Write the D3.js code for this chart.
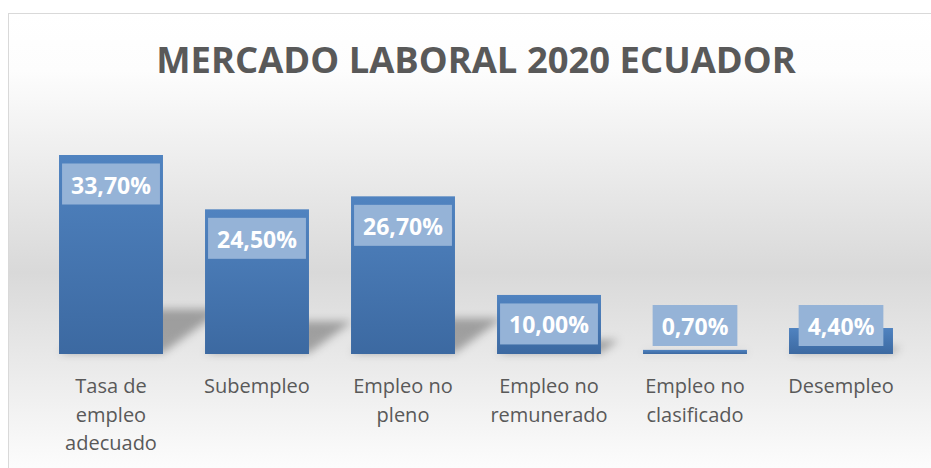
<!DOCTYPE html>
<html><head><meta charset="utf-8">
<script src="https://cdn.jsdelivr.net/npm/d3@7"></script>
<style>html,body{margin:0;padding:0;background:#fff;}svg{display:block;}</style>
</head><body>
<script>
const title = "MERCADO LABORAL 2020 ECUADOR";
const categories = ["Tasa de empleo adecuado","Subempleo","Empleo no pleno","Empleo no remunerado","Empleo no clasificado","Desempleo"];
const values = [33.7, 24.5, 26.7, 10.0, 0.7, 4.4];
const valueLabels = ["33,70%","24,50%","26,70%","10,00%","0,70%","4,40%"];

const W = 931, H = 468;
const svg = d3.select("body").append("svg").attr("width", W).attr("height", H);
const defs = svg.append("defs");

const bg = defs.append("linearGradient").attr("id","bg").attr("x1",0).attr("y1",0).attr("x2",0).attr("y2",1);
bg.append("stop").attr("offset","0%").attr("stop-color","#ffffff");
bg.append("stop").attr("offset","12%").attr("stop-color","#fdfdfd");
bg.append("stop").attr("offset","55%").attr("stop-color","#d9d9d9");
bg.append("stop").attr("offset","100%").attr("stop-color","#ffffff");

const bar = defs.append("linearGradient").attr("id","bar").attr("x1",0).attr("y1",0).attr("x2",0).attr("y2",1);
bar.append("stop").attr("offset","0%").attr("stop-color","#5083c0");
bar.append("stop").attr("offset","100%").attr("stop-color","#3c69a1");

const blur = defs.append("filter").attr("id","blur").attr("x","-50%").attr("y","-50%").attr("width","200%").attr("height","200%");
blur.append("feGaussianBlur").attr("stdDeviation",4);

svg.append("rect").attr("x",8.5).attr("y",13.5).attr("width",940).attr("height",470)
  .attr("fill","url(#bg)").attr("stroke","#d9d9d9").attr("stroke-width",1);

svg.append("text").attr("x",476).attr("y",73).attr("text-anchor","middle")
  .attr("font-family","'Open Sans'").attr("font-weight","bold").attr("font-size",36.4)
  .attr("fill","#595959").text(title);

const x = d3.scaleBand().domain(categories).range([38, 914]).paddingInner(0.288).paddingOuter(0.144);
const y = d3.scaleLinear().domain([0, 40]).range([354, 117.8]);

// shadows
svg.append("g").attr("filter","url(#blur)").selectAll("path").data(values).join("path")
  .attr("d",(d,i)=>{
    const x0 = x(categories[i]), x1 = x0 + x.bandwidth();
    const b = y(0) - 1, h = y(0) - y(d);
    const k = 0.22, dx = h*0.3;
    return `M${x0},${b}L${x1},${b}L${x1+dx},${b-h*k}L${x0+dx},${b-h*k}Z`;
  })
  .attr("fill","#000").attr("opacity",0.3);

svg.append("g").selectAll("rect").data(values).join("rect")
  .attr("x",(d,i)=>x(categories[i])).attr("width",x.bandwidth())
  .attr("y",d=>y(d)).attr("height",d=>y(0)-y(d)).attr("fill","url(#bar)");

// value labels
const lg = svg.append("g").selectAll("g").data(values).join("g");
lg.each(function(d,i){
  const g = d3.select(this);
  const cx = x(categories[i]) + x.bandwidth()/2;
  const t = g.append("text").attr("x",cx).attr("text-anchor","middle")
    .attr("font-family","'Open Sans'").attr("font-weight","bold").attr("font-size",23)
    .attr("fill","#fff").text(valueLabels[i]);
  const tw = t.node().getComputedTextLength();
  const bw = tw + 18, bh = 41;
  const top = Math.min(y(d) + 8.5, y(0) - 8 - bh);
  g.insert("rect","text").attr("x",cx - bw/2).attr("y",top).attr("width",bw).attr("height",bh).attr("fill","#95b3d7");
  t.attr("y", top + 30);
});

// category labels
const cg = svg.append("g");
categories.forEach((c,i)=>{
  const cx = x(c) + x.bandwidth()/2;
  const t = cg.append("text").attr("x",cx).attr("y",393).attr("text-anchor","middle")
    .attr("font-family","'Open Sans'").attr("font-size",20).attr("fill","#595959");
  const words = c.split(" ");
  let line = [];
  let ts = t.append("tspan").attr("x",cx).attr("dy",0);
  words.forEach(w=>{
    line.push(w);
    ts.text(line.join(" "));
    if (ts.node().getComputedTextLength() > 125 && line.length > 1) {
      line.pop(); ts.text(line.join(" "));
      line = [w];
      ts = t.append("tspan").attr("x",cx).attr("dy",28.7).text(w);
    }
  });
});
</script>
</body></html>
